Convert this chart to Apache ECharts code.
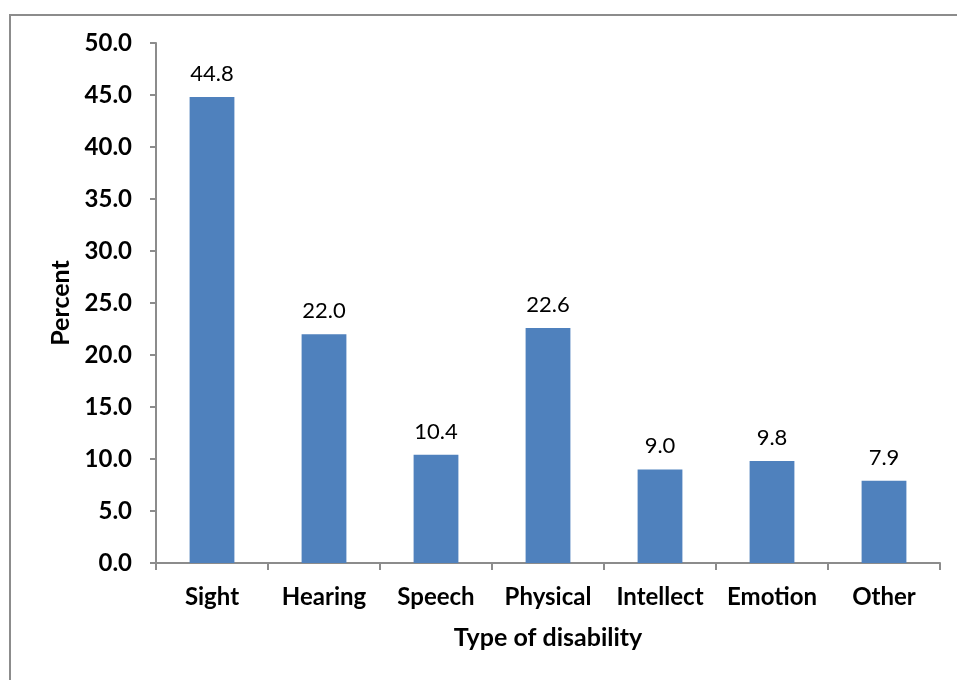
<!DOCTYPE html>
<html>
<head>
<meta charset="utf-8">
<script src="https://cdn.jsdelivr.net/npm/echarts@6/dist/echarts.min.js"></script>
<style>
html,body{margin:0;padding:0;background:#fff;}
#chart{width:957px;height:680px;}
</style>
</head>
<body>
<div id="chart"></div>
<script>
const categories = ['Sight', 'Hearing', 'Speech', 'Physical', 'Intellect', 'Emotion', 'Other'];
const percentValues = [44.8, 22.0, 10.4, 22.6, 9.0, 9.8, 7.9];
const xAxisTitle = 'Type of disability';
const yAxisTitle = 'Percent';

const FONT = 'Lato';
const chart = echarts.init(document.getElementById('chart'), null, {renderer: 'canvas'});
chart.setOption({
  animation: false,
  backgroundColor: '#ffffff',
  textStyle: {fontFamily: FONT},
  graphic: [{
    type: 'rect',
    shape: {x: 10, y: 15, width: 1000, height: 1000},
    style: {fill: 'none', stroke: '#8c8c8c', lineWidth: 2},
    silent: true
  }],
  grid: {left: 156, right: 17, top: 43, bottom: 117, containLabel: false},
  xAxis: {
    type: 'category',
    data: categories,
    name: xAxisTitle,
    nameLocation: 'middle',
    nameGap: 62,
    nameTextStyle: {fontFamily: FONT, fontSize: 25, fontWeight: 'bold', color: '#000'},
    axisLine: {show: true, lineStyle: {color: '#8c8c8c', width: 2}},
    axisTick: {show: true, alignWithLabel: false, length: 7, lineStyle: {color: '#8c8c8c', width: 2}},
    axisLabel: {fontFamily: FONT, fontSize: 24, fontWeight: 'bold', color: '#000', margin: 22, interval: 0},
    splitLine: {show: false}
  },
  yAxis: {
    type: 'value',
    min: 0, max: 50, interval: 5,
    name: yAxisTitle,
    nameLocation: 'middle',
    nameGap: 82,
    nameRotate: 90,
    nameTextStyle: {fontFamily: FONT, fontSize: 25, fontWeight: 'bold', color: '#000'},
    axisLine: {show: true, lineStyle: {color: '#8c8c8c', width: 2}},
    axisTick: {show: true, length: 6, lineStyle: {color: '#8c8c8c', width: 2}},
    axisLabel: {fontFamily: FONT, fontSize: 24, fontWeight: 'bold', color: '#000', margin: 24,
      formatter: v => v.toFixed(1)},
    splitLine: {show: false}
  },
  series: [{
    type: 'bar',
    data: percentValues,
    barWidth: '40%',
    itemStyle: {color: '#4f81bd'},
    label: {show: true, position: 'top', distance: 12, fontFamily: FONT, fontSize: 22, color: '#000',
      formatter: p => p.value.toFixed(1)}
  }]
});
</script>
</body>
</html>
